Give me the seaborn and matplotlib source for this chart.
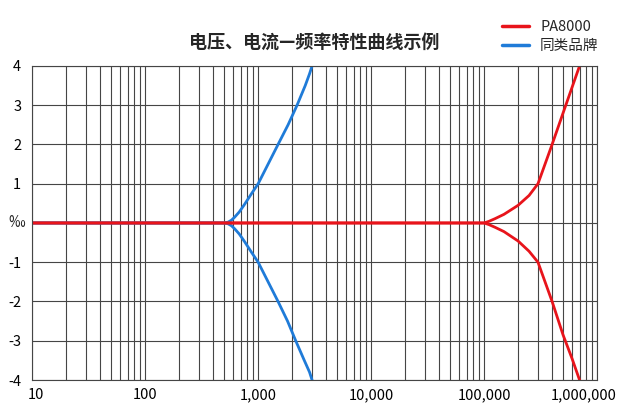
import numpy as np
import pandas as pd
import matplotlib
matplotlib.use('Agg')
import matplotlib.pyplot as plt
import matplotlib.transforms as mtransforms
from matplotlib.lines import Line2D
from matplotlib.ticker import LogLocator, NullFormatter
import seaborn as sns

# Curve data (frequency in Hz, deviation in per mille)
blue_up_freq = [10, 500, 540, 580, 620, 680, 760, 870, 1000, 1200, 1500, 1840, 2210, 2610, 2850, 3000]
blue_up_val = [0, 0, 0.02, 0.07, 0.15, 0.28, 0.48, 0.74, 1.0, 1.45, 2.0, 2.5, 3.0, 3.5, 3.8, 4.0]
blue_dn_freq = [10, 500, 540, 580, 620, 680, 760, 870, 1000, 1200, 1500, 1820, 2150, 2560, 2850, 3000]
blue_dn_val = [0, 0, -0.02, -0.07, -0.15, -0.28, -0.48, -0.74, -1.0, -1.45, -2.0, -2.5, -3.0, -3.5, -3.8, -4.0]

red_up_freq = [10, 100000, 110000, 125000, 150000, 200000, 250000, 300000, 400000, 500000, 600000, 700000]
red_up_val = [0, 0, 0.04, 0.11, 0.22, 0.45, 0.7, 1.0, 2.0, 2.8, 3.45, 4.0]
red_dn_freq = [10, 100000, 110000, 125000, 150000, 200000, 250000, 300000, 400000, 500000, 600000, 700000]
red_dn_val = [0, 0, -0.04, -0.11, -0.22, -0.46, -0.72, -1.0, -2.0, -2.85, -3.45, -4.0]

x_ticks = [10, 100, 1000, 10000, 100000, 1000000]
x_labels = ['10', '100', '1,000', '10,000', '100,000', '1,000,000']
y_ticks = [-4, -3, -2, -1, 0, 1, 2, 3, 4]
y_labels = ['-4', '-3', '-2', '-1', '', '1', '2', '3', '4']

brands = ['PA8000', '同类品牌']
colors = {'PA8000': '#e8141b', '同类品牌': '#1f7bd8'}

sns.set_theme(style='white')
plt.rcParams['font.family'] = ['Noto Sans CJK SC', 'DejaVu Sans']
plt.rcParams['axes.unicode_minus'] = False

fig = plt.figure(figsize=(6.2, 4.16), dpi=100)
ax = fig.add_axes([0.052, 0.0865, 0.911, 0.755])

# blue first so the red line sits on top along zero
series = [
    ('同类品牌', blue_up_freq, blue_up_val),
    ('同类品牌', blue_dn_freq, blue_dn_val),
    ('PA8000', red_up_freq, red_up_val),
    ('PA8000', red_dn_freq, red_dn_val),
]
for brand, fx, fy in series:
    df = pd.DataFrame({'freq': fx, 'value': fy})
    sns.lineplot(data=df, x='freq', y='value', color=colors[brand],
                 linewidth=2.0, sort=False, ax=ax)

ax.set_xscale('log')
ax.set_xlim(10, 1000000)
ax.set_ylim(-4, 4)
ax.set_xticks(x_ticks)
ax.set_xticklabels(x_labels)
ax.xaxis.set_minor_locator(LogLocator(base=10, subs=range(2, 10), numticks=50))
ax.xaxis.set_minor_formatter(NullFormatter())
ax.set_yticks(y_ticks)
ax.set_yticklabels(y_labels)

ax.grid(True, which='major', axis='both', color='#454545', linewidth=0.8)
ax.grid(True, which='minor', axis='x', color='#454545', linewidth=0.8)
ax.set_axisbelow(True)
for sp in ax.spines.values():
    sp.set_color('#454545')
    sp.set_linewidth(0.8)

ax.tick_params(axis='both', which='both', length=0, labelsize=10.5, colors='black')
ax.tick_params(axis='x', pad=6)
ax.tick_params(axis='y', pad=8)

# nudge the outer x labels inwards like the original
xl = ax.get_xticklabels()
xl[0].set_transform(xl[0].get_transform() + mtransforms.ScaledTranslation(4 / 100, 0, fig.dpi_scale_trans))
xl[-1].set_transform(xl[-1].get_transform() + mtransforms.ScaledTranslation(-13 / 100, 0, fig.dpi_scale_trans))

ax.set_xlabel('')
ax.set_ylabel('‰', rotation=0, fontsize=12, labelpad=4, va='center')
ax.yaxis.set_label_coords(-0.028, 0.5)

ax.set_title('电压、电流—频率特性曲线示例', fontsize=13, fontweight='heavy', pad=13)

handles = [Line2D([0], [0], color=colors[b], linewidth=2.5) for b in brands]
fig.legend(handles, brands, loc='upper right', bbox_to_anchor=(0.975, 0.965),
           frameon=False, fontsize=10.5, handlelength=1.85, handletextpad=0.75,
           labelspacing=0.3, borderaxespad=0)

fig.savefig('out.png', dpi=100)
